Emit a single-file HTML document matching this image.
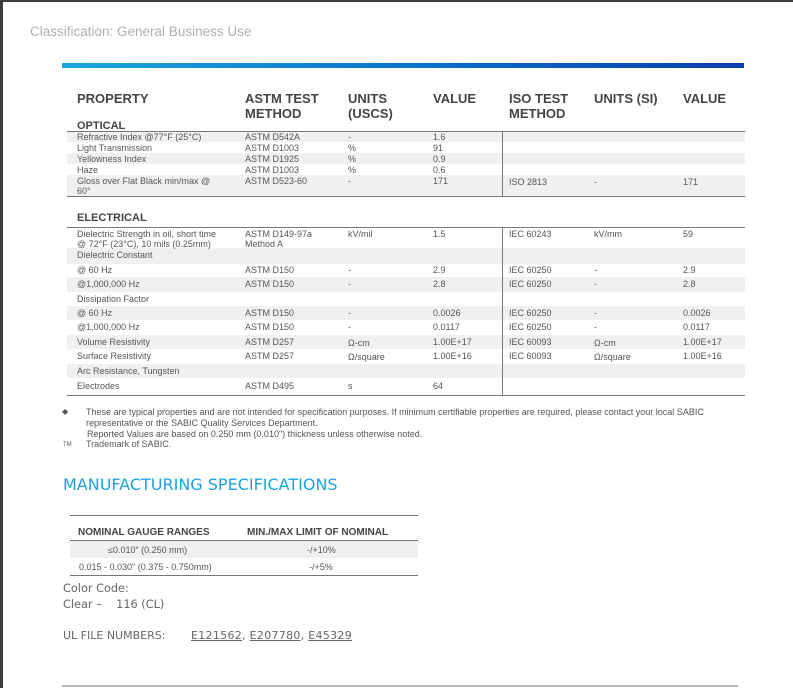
<!DOCTYPE html>
<html><head><meta charset="utf-8"><style>
*{margin:0;padding:0;box-sizing:border-box}
body{width:793px;height:688px;background:#fff;position:relative;overflow:hidden;font-family:"Liberation Sans",sans-serif;color:#555}
div{position:absolute;white-space:nowrap}
.t{font-size:9px;line-height:10px;color:#555}
.h{font-size:13px;line-height:15px;font-weight:bold;color:#444}
.s{font-size:11px;font-weight:bold;color:#444;line-height:12px}
.g{background:#f0f0f0;left:67px;width:678px}
.l{left:67px;width:678px;height:1px;background:#777}
.r{font-family:"DejaVu Sans","Liberation Sans",sans-serif;color:#666}
</style></head><body>
<div style="left:0;top:0;width:793px;height:2px;background:#3c3c3c"></div>
<div style="left:0;top:0;width:3px;height:688px;background:#3c3c3c"></div>
<div style="left:30px;top:24px;font-size:13.5px;color:#aab0b8">Classification: General Business Use</div>
<div style="left:62px;top:63px;width:682px;height:5px;background:linear-gradient(90deg,#1aa6e0,#0a6fc8 55%,#0a3fb0)"></div>

<div class="h" style="left:77px;top:91px">PROPERTY</div>
<div class="h" style="left:245px;top:91px">ASTM TEST<br>METHOD</div>
<div class="h" style="left:348px;top:91px">UNITS<br>(USCS)</div>
<div class="h" style="left:433px;top:91px">VALUE</div>
<div class="h" style="left:509px;top:91px">ISO TEST<br>METHOD</div>
<div class="h" style="left:594px;top:91px">UNITS (SI)</div>
<div class="h" style="left:683px;top:91px">VALUE</div>
<div class="s" style="left:77px;top:120px">OPTICAL</div>

<div class="g" style="top:131px;height:11px"></div>
<div class="g" style="top:153px;height:11px"></div>
<div class="g" style="top:175px;height:22px"></div>
<div class="l" style="top:131px"></div>
<div class="l" style="top:196px"></div>
<div style="left:502px;top:131px;width:1px;height:66px;background:#777"></div>

<div class="t" style="left:77px;top:132px">Refractive Index @77°F (25°C)</div>
<div class="t" style="left:245px;top:132px">ASTM D542A</div><div class="t" style="left:348px;top:132px">-</div><div class="t" style="left:433px;top:132px">1.6</div>
<div class="t" style="left:77px;top:143px">Light Transmission</div>
<div class="t" style="left:245px;top:143px">ASTM D1003</div><div class="t" style="left:348px;top:143px">%</div><div class="t" style="left:433px;top:143px">91</div>
<div class="t" style="left:77px;top:154px">Yellowness Index</div>
<div class="t" style="left:245px;top:154px">ASTM D1925</div><div class="t" style="left:348px;top:154px">%</div><div class="t" style="left:433px;top:154px">0.9</div>
<div class="t" style="left:77px;top:165px">Haze</div>
<div class="t" style="left:245px;top:165px">ASTM D1003</div><div class="t" style="left:348px;top:165px">%</div><div class="t" style="left:433px;top:165px">0.6</div>
<div class="t" style="left:77px;top:176px">Gloss over Flat Black min/max @<br>60°</div>
<div class="t" style="left:245px;top:176px">ASTM D523-60</div><div class="t" style="left:348px;top:176px">-</div><div class="t" style="left:433px;top:176px">171</div>
<div class="t" style="left:509px;top:177px">ISO 2813</div><div class="t" style="left:594px;top:177px">-</div><div class="t" style="left:683px;top:177px">171</div>

<div class="s" style="left:77px;top:212px">ELECTRICAL</div>
<div class="g" style="top:248px;height:16px"></div>
<div class="g" style="top:277px;height:15px"></div>
<div class="g" style="top:306px;height:14px"></div>
<div class="g" style="top:335px;height:14px"></div>
<div class="g" style="top:364px;height:14px"></div>
<div class="l" style="top:227px"></div>
<div class="l" style="top:395px"></div>
<div style="left:502px;top:227px;width:1px;height:169px;background:#777"></div>

<div class="t" style="left:77px;top:229px">Dielectric Strength in oil, short time<br>@ 72°F (23°C), 10 mils (0.25mm)</div>
<div class="t" style="left:245px;top:229px">ASTM D149-97a<br>Method A</div><div class="t" style="left:348px;top:229px">kV/mil</div><div class="t" style="left:433px;top:229px">1.5</div>
<div class="t" style="left:509px;top:229px">IEC 60243</div><div class="t" style="left:594px;top:229px">kV/mm</div><div class="t" style="left:683px;top:229px">59</div>
<div class="t" style="left:77px;top:250px">Dielectric Constant</div>
<div class="t" style="left:77px;top:265px">@ 60 Hz</div><div class="t" style="left:245px;top:265px">ASTM D150</div><div class="t" style="left:348px;top:265px">-</div><div class="t" style="left:433px;top:265px">2.9</div><div class="t" style="left:509px;top:265px">IEC 60250</div><div class="t" style="left:594px;top:265px">-</div><div class="t" style="left:683px;top:265px">2.9</div>
<div class="t" style="left:77px;top:279px">@1,000,000 Hz</div><div class="t" style="left:245px;top:279px">ASTM D150</div><div class="t" style="left:348px;top:279px">-</div><div class="t" style="left:433px;top:279px">2.8</div><div class="t" style="left:509px;top:279px">IEC 60250</div><div class="t" style="left:594px;top:279px">-</div><div class="t" style="left:683px;top:279px">2.8</div>
<div class="t" style="left:77px;top:294px">Dissipation Factor</div>
<div class="t" style="left:77px;top:308px">@ 60 Hz</div><div class="t" style="left:245px;top:308px">ASTM D150</div><div class="t" style="left:348px;top:308px">-</div><div class="t" style="left:433px;top:308px">0.0026</div><div class="t" style="left:509px;top:308px">IEC 60250</div><div class="t" style="left:594px;top:308px">-</div><div class="t" style="left:683px;top:308px">0.0026</div>
<div class="t" style="left:77px;top:322px">@1,000,000 Hz</div><div class="t" style="left:245px;top:322px">ASTM D150</div><div class="t" style="left:348px;top:322px">-</div><div class="t" style="left:433px;top:322px">0.0117</div><div class="t" style="left:509px;top:322px">IEC 60250</div><div class="t" style="left:594px;top:322px">-</div><div class="t" style="left:683px;top:322px">0.0117</div>
<div class="t" style="left:77px;top:337px">Volume Resistivity</div><div class="t" style="left:245px;top:337px">ASTM D257</div><div class="t" style="left:348px;top:338px">Ω-cm</div><div class="t" style="left:433px;top:337px">1.00E+17</div><div class="t" style="left:509px;top:337px">IEC 60093</div><div class="t" style="left:594px;top:338px">Ω-cm</div><div class="t" style="left:683px;top:337px">1.00E+17</div>
<div class="t" style="left:77px;top:351px">Surface Resistivity</div><div class="t" style="left:245px;top:351px">ASTM D257</div><div class="t" style="left:348px;top:352px">Ω/square</div><div class="t" style="left:433px;top:351px">1.00E+16</div><div class="t" style="left:509px;top:351px">IEC 60093</div><div class="t" style="left:594px;top:352px">Ω/square</div><div class="t" style="left:683px;top:351px">1.00E+16</div>
<div class="t" style="left:77px;top:366px">Arc Resistance, Tungsten</div>
<div class="t" style="left:77px;top:381px">Electrodes</div><div class="t" style="left:245px;top:381px">ASTM D495</div><div class="t" style="left:348px;top:381px">s</div><div class="t" style="left:433px;top:381px">64</div>

<div class="t" style="left:62px;top:407px;font-size:8px">◆</div>
<div class="t" style="left:86px;top:407px;line-height:11px">These are typical properties and are not intended for specification purposes. If minimum certifiable properties are required, please contact your local SABIC<br>representative or the SABIC Quality Services Department.</div>
<div class="t" style="left:87px;top:429px">Reported Values are based on 0.250 mm (0.010") thickness unless otherwise noted.</div>
<div class="t" style="left:63px;top:440px;font-size:6px">TM</div>
<div class="t" style="left:86px;top:439px">Trademark of SABIC.</div>

<div class="r" style="left:63px;top:475px;font-size:16px;color:#1aa3e0">MANUFACTURING SPECIFICATIONS</div>

<div style="left:70px;top:515px;width:348px;height:1px;background:#777"></div>
<div style="left:70px;top:541px;width:348px;height:17px;background:#f0f0f0"></div>
<div style="left:70px;top:540px;width:348px;height:1px;background:#777"></div>
<div style="left:70px;top:575px;width:348px;height:1px;background:#777"></div>
<div class="t" style="left:78px;top:528px;font-weight:bold;font-size:10px;color:#444">NOMINAL GAUGE RANGES</div>
<div class="t" style="left:247px;top:528px;font-weight:bold;font-size:10px;color:#444">MIN./MAX LIMIT OF NOMINAL</div>
<div class="t" style="left:108px;top:545px">≤0.010" (0.250 mm)</div>
<div class="t" style="left:307px;top:545px">-/+10%</div>
<div class="t" style="left:79px;top:562px">0.015 - 0.030" (0.375 - 0.750mm)</div>
<div class="t" style="left:309px;top:562px">-/+5%</div>

<div class="r" style="left:63px;top:581px;font-size:11.3px;line-height:16px">Color Code:<br>Clear –&nbsp;&nbsp;&nbsp; 116 (CL)</div>
<div class="r" style="left:63px;top:629px;font-size:11px">UL FILE NUMBERS:</div>
<div class="r" style="left:191px;top:629px;font-size:11px;letter-spacing:0.3px"><u>E121562</u>,&nbsp;<u>E207780</u>,&nbsp;<u>E45329</u></div>

<div style="left:62px;top:685px;width:676px;height:2px;background:#bbb"></div>
</body></html>
